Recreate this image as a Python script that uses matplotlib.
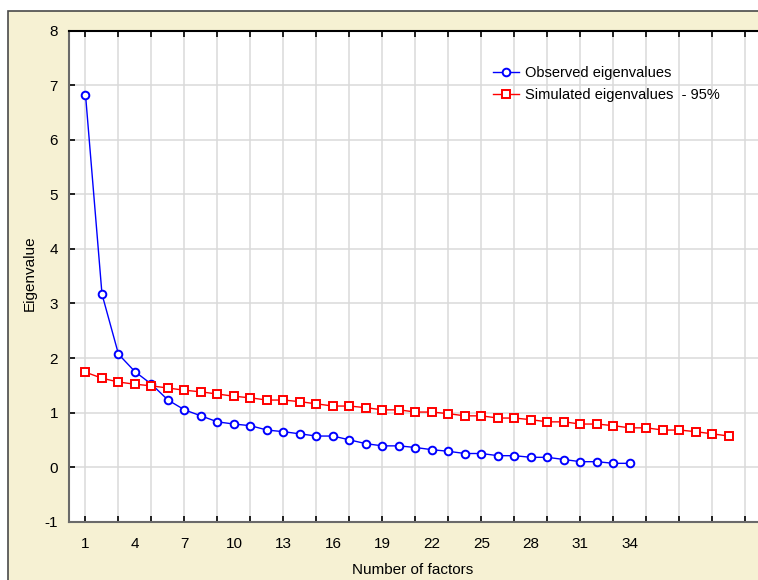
import numpy as np
import matplotlib
matplotlib.use("Agg")
import matplotlib.pyplot as plt
from matplotlib.patches import Rectangle

plt.rcParams['font.family'] = ['Liberation Sans', 'DejaVu Sans']
plt.rcParams['axes.unicode_minus'] = False

# eigenvalues
observed = [6.83, 3.17, 2.07, 1.75, 1.52, 1.23, 1.05, 0.94, 0.83, 0.79,
            0.76, 0.68, 0.65, 0.61, 0.57, 0.57, 0.50, 0.43, 0.39, 0.39,
            0.36, 0.32, 0.29, 0.25, 0.25, 0.21, 0.21, 0.18, 0.18, 0.14,
            0.10, 0.10, 0.07, 0.07]
simulated = [1.74, 1.63, 1.56, 1.52, 1.49, 1.45, 1.41, 1.38, 1.34, 1.30,
             1.27, 1.23, 1.23, 1.20, 1.16, 1.12, 1.12, 1.09, 1.05, 1.05,
             1.01, 1.01, 0.98, 0.94, 0.94, 0.90, 0.90, 0.87, 0.83, 0.83,
             0.79, 0.79, 0.76, 0.72, 0.72, 0.68, 0.68, 0.65, 0.61, 0.57]
x_labels = [1, 4, 7, 10, 13, 16, 19, 22, 25, 28, 31, 34]

obs_x = np.arange(1, len(observed) + 1)
sim_x = np.arange(1, len(simulated) + 1)

W, H = 758, 580
fig = plt.figure(figsize=(W / 100, H / 100), dpi=100, facecolor='white')

# cream panel behind the plot
panel = Rectangle((8 / W, -0.01), 1.02, (H - 11) / H + 0.01, transform=fig.transFigure,
                  facecolor='#F6F1D3', edgecolor='#4a4a4a', linewidth=1.2, zorder=0)
fig.add_artist(panel)

ax = fig.add_axes([69 / W, 58.3 / H, (W - 69) / W + 0.003, (521.7 - 30.7) / H])
ax.set_facecolor('white')

ax.plot(obs_x, observed, color='#0000FF', lw=1, marker='o', ms=5.5, mfc='white',
        mec='#0000FF', mew=1.4, label='Observed eigenvalues', zorder=3)
ax.plot(sim_x, simulated, color='#FF0000', lw=1, marker='s', ms=5.5, mfc='white',
        mec='#FF0000', mew=1.4, label='Simulated eigenvalues  - 95%', zorder=3)

ax.set_xlim(0, 41.9)
ax.set_ylim(-1, 8)

# gridlines every 2 factors, labels every 3
ax.xaxis.remove_overlapping_locs = False
ax.set_xticks(np.arange(1, 42, 2))
ax.set_xticklabels([])
ax.set_xticks(x_labels, minor=True)
ax.set_xticklabels([str(v) for v in x_labels], minor=True)
ax.tick_params(axis='x', which='minor', length=0, pad=11, labelsize=11)
ax.tick_params(axis='x', which='major', direction='in', length=4, width=1.2,
               top=True, color='black')
ax.set_yticks(range(-1, 9))
ax.tick_params(axis='y', direction='in', length=4, width=1.2, pad=8, labelsize=11,
               color='black')

ax.grid(True, which='major', color='#DADADA', lw=1.1)
ax.set_axisbelow(True)

for s in ['left', 'bottom']:
    ax.spines[s].set_color('#6a6a6a')
    ax.spines[s].set_linewidth(1.5)
ax.spines['top'].set_color('black')
ax.spines['top'].set_linewidth(1.5)
ax.spines['right'].set_visible(False)

ax_w = W - 69
ax_h = 521.7 - 30.7
ax.set_xlabel('Number of factors', fontsize=11, va='center')
ax.set_ylabel('Eigenvalue', fontsize=11, va='center')
ax.xaxis.set_label_coords((411 - 69) / ax_w, -(570 - 521.7) / ax_h)
ax.yaxis.set_label_coords((30 - 69) / ax_w, (521.7 - 273) / ax_h)

ax.legend(loc='upper left', bbox_to_anchor=((486 - 69) / ax_w, 0.94), frameon=False,
          fontsize=10.5, handlelength=1.8, handletextpad=0.35, labelspacing=0.55,
          borderaxespad=0)

fig.savefig('out.png', dpi=100, facecolor=fig.get_facecolor())
